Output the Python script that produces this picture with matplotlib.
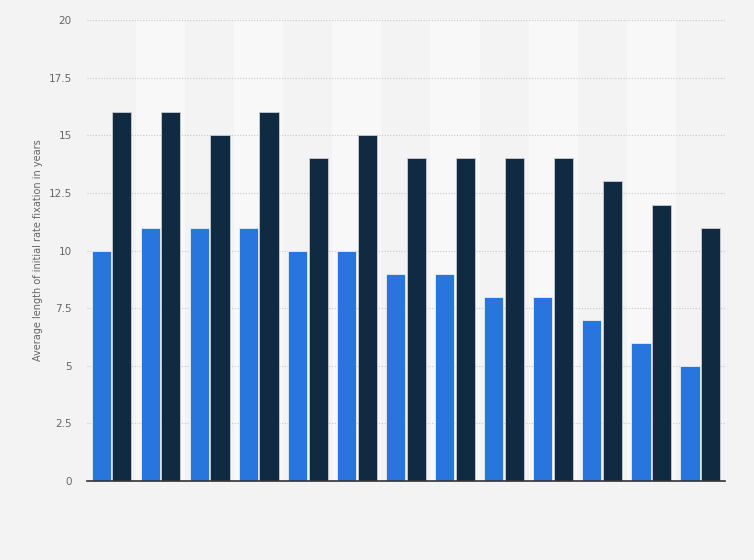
import matplotlib.pyplot as plt
import numpy as np

# values (13 groups, two series)
series_a = [10, 11, 11, 11, 10, 10, 9, 9, 8, 8, 7, 6, 5]
series_b = [16, 16, 15, 16, 14, 15, 14, 14, 14, 14, 13, 12, 11]
y_ticks = [0, 2.5, 5, 7.5, 10, 12.5, 15, 17.5, 20]
y_labels = ['0', '2.5', '5', '7.5', '10', '12.5', '15', '17.5', '20']

x = np.arange(len(series_a))
w = 0.39

fig = plt.figure(figsize=(7.54, 5.6), dpi=100)
fig.patch.set_facecolor('#f3f3f3')
ax = fig.add_axes([0.1154, 0.141, 0.846, 0.823])
ax.set_facecolor('#f3f3f3')

# alternating lighter column bands
for i in x:
    if i % 2 == 1:
        ax.axvspan(i - 0.5, i + 0.5, color='#f8f8f8', zorder=0, lw=0)

ax.bar(x - 0.21, series_a, width=w, color='#2876dd', edgecolor='#e8eef6', linewidth=0.6, zorder=3)
ax.bar(x + 0.21, series_b, width=w, color='#0f2a41', edgecolor='#c8cdd2', linewidth=0.6, zorder=3)

ax.set_xlim(-0.5, len(x) - 0.5)
ax.set_ylim(0, 20)
ax.set_yticks(y_ticks)
ax.set_yticklabels(y_labels, color='#666666', fontsize=7.5)
ax.set_xticks([])
ax.tick_params(axis='y', length=0, pad=11)
ax.grid(axis='y', color='#c8c8c8', linestyle=(0, (1, 1.5)), linewidth=0.8, zorder=1)
ax.set_axisbelow(True)

for side in ['top', 'right', 'left']:
    ax.spines[side].set_visible(False)
ax.spines['bottom'].set_color('#333333')
ax.spines['bottom'].set_linewidth(1.2)
ax.spines['bottom'].set_zorder(4)

ax.set_ylabel('Average length of initial rate fixation in years', color='#666666', fontsize=7, labelpad=4)

fig.savefig('out.png', dpi=100, facecolor=fig.get_facecolor())
